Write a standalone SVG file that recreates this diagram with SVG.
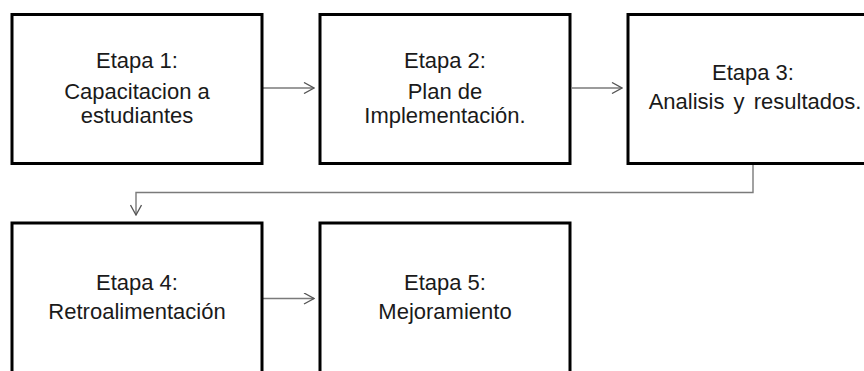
<svg xmlns="http://www.w3.org/2000/svg" width="864" height="371" viewBox="0 0 864 371">
<style>
.box{fill:#fff;stroke:#000;stroke-width:3}
.t{font-family:"Liberation Sans",Arial,sans-serif;font-size:22px;fill:#1a1a1a;text-anchor:middle}
.ws{word-spacing:3px}
.c{fill:none;stroke:#7a7a7a;stroke-width:1.4}
</style>
<defs>
<marker id="ah" viewBox="0 0 12 12" refX="11" refY="6" markerWidth="12" markerHeight="12" markerUnits="userSpaceOnUse" orient="auto">
<path d="M1,0.5 L11,6 L1,11.5" fill="none" stroke="#555" stroke-width="1.3"/>
</marker>
</defs>
<rect width="864" height="371" fill="#fff"/>
<g id="connectors">
<path class="c" d="M263,88 H314" marker-end="url(#ah)"/>
<path class="c" d="M572,88 H622" marker-end="url(#ah)"/>
<path class="c" d="M753,164 V192.5 H136 V215" marker-end="url(#ah)"/>
<path class="c" d="M263,298.5 H314" marker-end="url(#ah)"/>
</g>
<g id="node1">
<rect class="box" x="12" y="14.5" width="250" height="149"/>
<text class="t" x="137" y="67.5">Etapa 1:</text>
<text class="t" x="137" y="99">Capacitacion a</text>
<text class="t" x="137" y="122.5">estudiantes</text>
</g>
<g id="node2">
<rect class="box" x="320" y="14.5" width="250" height="149"/>
<text class="t" x="445" y="67.5">Etapa 2:</text>
<text class="t" x="445" y="99">Plan de</text>
<text class="t" x="445" y="122.5">Implementación.</text>
</g>
<g id="node3">
<rect class="box" x="628" y="14.5" width="250" height="149"/>
<text class="t" x="753" y="80">Etapa 3:</text>
<text class="t ws" x="755" y="109">Analisis y resultados.</text>
</g>
<g id="node4">
<rect class="box" x="12" y="223" width="250" height="160"/>
<text class="t" x="137" y="290">Etapa 4:</text>
<text class="t" x="137" y="319">Retroalimentación</text>
</g>
<g id="node5">
<rect class="box" x="320" y="223" width="250" height="160"/>
<text class="t" x="445" y="290">Etapa 5:</text>
<text class="t" x="445" y="319">Mejoramiento</text>
</g>
</svg>
